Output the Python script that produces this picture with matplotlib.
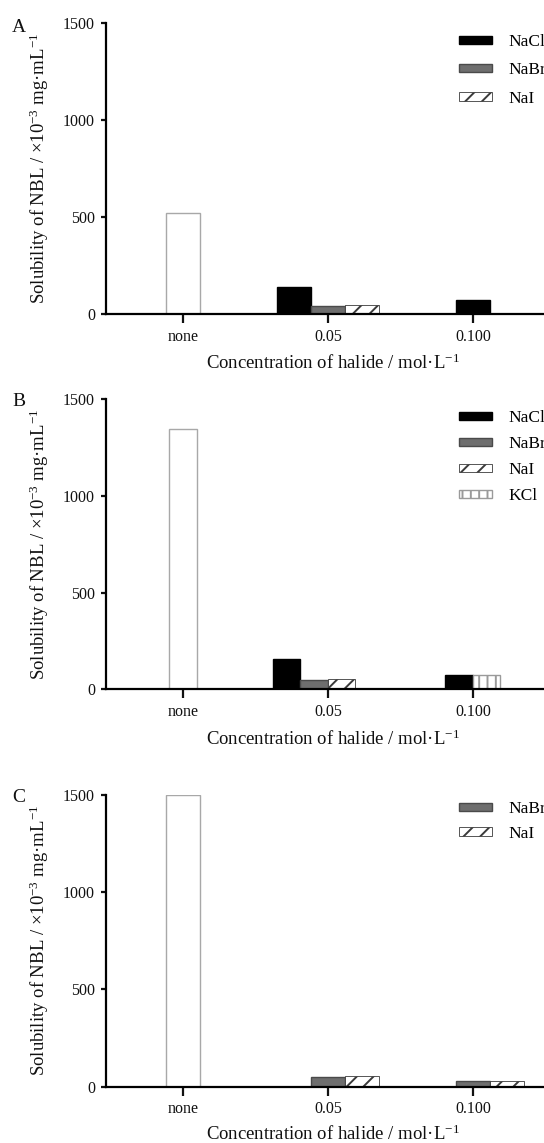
import matplotlib
matplotlib.use("Agg")
import matplotlib.pyplot as plt
from matplotlib.patches import Rectangle

# ---------------- data ----------------
categories = ["none", "0.05", "0.100"]
series_names = ["NaCl", "NaBr", "NaI", "KCl"]

A_none = 519
A_NaCl = [141, 74]
A_NaBr = [40, None]
A_NaI = [46, None]

B_none = 1346
B_NaCl = [155, 72]
B_NaBr = [48, None]
B_NaI = [53, None]
B_KCl = [0, 72]

C_none = 1500
C_NaCl = [0, 0]          # empty column slot (not in legend)
C_NaBr = [48, 31]
C_NaI = [55, 31]

yticks = [0, 500, 1000, 1500]
panel_letters = ["A", "B", "C"]

# ---------------- style ----------------
plt.rcParams['font.family'] = ['Liberation Serif', 'DejaVu Serif']
plt.rcParams['mathtext.fontset'] = 'custom'
plt.rcParams['mathtext.rm'] = 'Liberation Serif'
plt.rcParams['mathtext.it'] = 'Liberation Serif:italic'
plt.rcParams['hatch.linewidth'] = 1.4

styles = {
    "none": dict(facecolor="white", edgecolor="#a8a8a8", linewidth=1.0, hatch=None),
    "NaCl": dict(facecolor="black", edgecolor="black", linewidth=1.0, hatch=None),
    "NaBr": dict(facecolor="#6e6e6e", edgecolor="#4a4a4a", linewidth=1.0, hatch=None),
    "NaI": dict(facecolor="white", edgecolor="#3a3a3a", linewidth=0.6, hatch="//"),
    "KCl": dict(facecolor="white", edgecolor="#9a9a9a", linewidth=1.0, hatch="||"),
}

panels = [
    dict(none=A_none, data={"NaCl": A_NaCl, "NaBr": A_NaBr, "NaI": A_NaI},
         rect=[106/544, 1-314/1143, 438/544, 290.7/1143], width=0.235,
         leg_y=0.962, leg_pitch=0.70, xl_y=-0.169, let_y=0.984),
    dict(none=B_none, data={"NaCl": B_NaCl, "NaBr": B_NaBr, "NaI": B_NaI, "KCl": B_KCl},
         rect=[106/544, 1-689.3/1143, 438/544, 290.3/1143], width=0.19,
         leg_y=0.961, leg_pitch=0.57, xl_y=-0.172, let_y=0.99),
    dict(none=C_none, data={"NaCl": C_NaCl, "NaBr": C_NaBr, "NaI": C_NaI},
         rect=[106/544, 1-1086.7/1143, 438/544, 291.7/1143], width=0.235,
         leg_y=0.979, leg_pitch=0.50, xl_y=-0.162, let_y=0.99),
]

fig = plt.figure(figsize=(5.44, 11.43), dpi=100)

for letter, p in zip(panel_letters, panels):
    ax = fig.add_axes(p["rect"])
    w = p["width"]
    # control bar
    st = styles["none"]
    ax.bar([0], [p["none"]], width=w, bottom=0, facecolor=st["facecolor"],
           edgecolor=st["edgecolor"], linewidth=st["linewidth"], zorder=2)
    # halide groups
    for gi in range(len(categories) - 1):
        x0 = gi + 1
        present = [n for n in series_names if n in p["data"] and p["data"][n][gi] is not None]
        k = len(present)
        for i, name in enumerate(present):
            val = p["data"][name][gi]
            if val <= 0:
                continue
            st = styles[name]
            xpos = x0 + (i - (k - 1) / 2) * w
            ax.bar([xpos], [val], width=w, facecolor=st["facecolor"],
                   edgecolor=st["edgecolor"], linewidth=st["linewidth"],
                   hatch=st["hatch"], zorder=2)

    ax.set_xlim(-0.53, 2.49)
    ax.set_ylim(0, 1500)
    ax.set_xticks(range(len(categories)))
    ax.set_xticklabels(categories)
    ax.set_yticks(yticks)
    for s in ["top", "right"]:
        ax.spines[s].set_visible(False)
    for s in ["left", "bottom"]:
        ax.spines[s].set_linewidth(1.6)
        ax.spines[s].set_zorder(3)
    ax.tick_params(axis="x", direction="out", length=6.5, width=1.6, pad=4,
                   labelsize=11.5, colors="#111")
    ax.tick_params(axis="y", direction="out", length=3.5, width=1.6, pad=4.5,
                   labelsize=11.5, colors="#111")

    ax.text(0.517, p["xl_y"], "Concentration of halide / mol·L$^{-1}$", transform=ax.transAxes,
            ha="center", va="center", fontsize=13.5, color="#111")
    ax.text(-0.153, 0.5, "Solubility of NBL / ×10$^{-3}$ mg·mL$^{-1}$", transform=ax.transAxes,
            ha="center", va="center", rotation=90, fontsize=13.5, color="#111")
    ax.text(-0.199, p["let_y"], letter, transform=ax.transAxes, ha="center", va="center",
            fontsize=14, color="#111")

    # legend
    handles, labels = [], []
    for name in series_names:
        if name in p["data"] and any(v is not None and v > 0 for v in p["data"][name]):
            st = styles[name]
            handles.append(Rectangle((0, 0), 1, 1, facecolor=st["facecolor"],
                                     edgecolor=st["edgecolor"], linewidth=st["linewidth"],
                                     hatch=st["hatch"]))
            labels.append(name)
    ax.legend(handles, labels, loc="upper left", bbox_to_anchor=(0.806, p["leg_y"]),
              frameon=False, fontsize=12.5, handlelength=1.9, handleheight=0.35,
              handletextpad=0.92, labelspacing=p["leg_pitch"], borderpad=0, borderaxespad=0)

fig.savefig("out.png", dpi=100)
